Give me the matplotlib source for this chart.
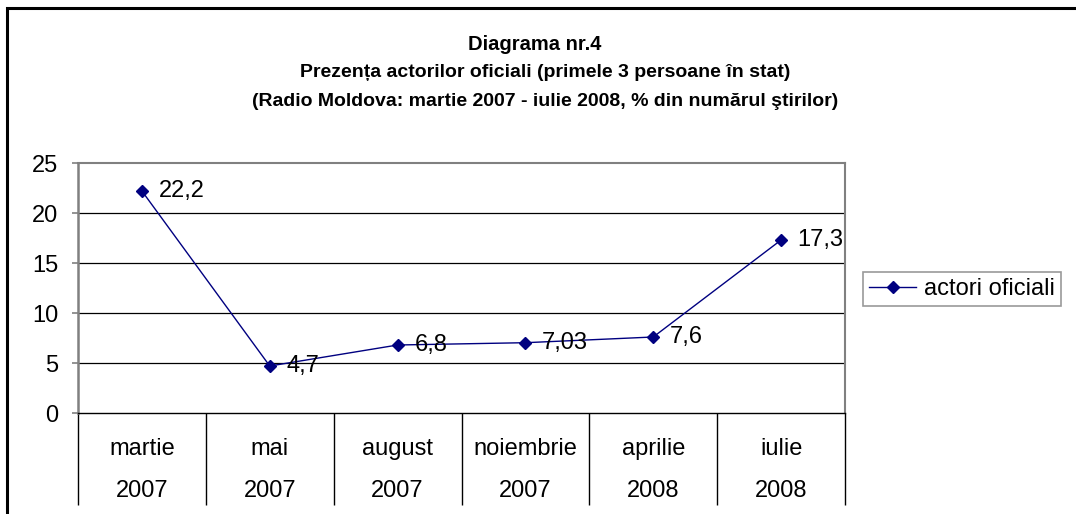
import matplotlib
matplotlib.use("Agg")
import matplotlib.pyplot as plt
from matplotlib.patches import Rectangle

plt.rcParams["font.family"] = ["Liberation Sans", "DejaVu Sans"]

W, H = 1076, 514

# data
months = ["martie", "mai", "august", "noiembrie", "aprilie", "iulie"]
years = ["2007", "2007", "2007", "2007", "2008", "2008"]
values = [22.2, 4.7, 6.8, 7.03, 7.6, 17.3]
value_labels = ["22,2", "4,7", "6,8", "7,03", "7,6", "17,3"]
series_name = "actori oficiali"
yticks = [0, 5, 10, 15, 20, 25]

title_lines = [
    "Diagrama nr.4",
    "Prezența actorilor oficiali (primele 3 persoane în stat)",
    "(Radio Moldova: martie 2007 - iulie 2008, % din numărul ştirilor)",
]

NAVY = "#000080"
GRAY = "#808080"
FS = 17

def px(x, y):
    # pixel coords (top-left origin) -> figure fraction
    return x / W, 1 - y / H

fig = plt.figure(figsize=(W / 100, H / 100), dpi=100)
l, b = px(78, 413)
r, t = px(845, 163)
ax = fig.add_axes([l, b, r - l, t - b])

x = list(range(len(values)))
ax.plot(x, values, color=NAVY, lw=1.0, marker="D", ms=6.5, mfc=NAVY, mec=NAVY,
        label=series_name, zorder=3)
for xi, v, lab in zip(x, values, value_labels):
    ax.annotate(lab, (xi, v), xytext=(12, 0), textcoords="offset points",
                ha="left", va="center", fontsize=FS)

ax.set_xlim(-0.5, len(values) - 0.5)
ax.set_ylim(0, 25)
ax.set_yticks(yticks)
ax.tick_params(axis="y", labelsize=FS, length=4.3, width=1.2, color=GRAY, pad=10)
for g in yticks[1:-1]:
    ax.axhline(g, color="black", lw=0.9, zorder=1)

# category axis: labels in cells separated by long minor ticks
ax.set_xticks(x)
ax.set_xticklabels([f"{m}\n{y}" for m, y in zip(months, years)], fontsize=FS,
                   linespacing=2.2)
ax.tick_params(axis="x", which="major", length=0, pad=18)
ax.set_xticks([i - 0.5 for i in range(len(values) + 1)], minor=True)
ax.tick_params(axis="x", which="minor", length=66, width=1.0, color="black")

for s in ["top", "right"]:
    ax.spines[s].set_color(GRAY)
    ax.spines[s].set_linewidth(1.5)
ax.spines["left"].set_color(GRAY)
ax.spines["left"].set_linewidth(1.8)
ax.spines["bottom"].set_color("black")
ax.spines["bottom"].set_linewidth(1.0)

# titles
for txt, xx, yy, fs in zip(title_lines, [535, 545, 545], [45, 73, 101], [14.5, 14, 14]):
    fig.text(xx / W, px(0, yy)[1], txt, ha="center", va="center",
             fontsize=fs, fontweight="bold")

leg = fig.legend(loc="center left", bbox_to_anchor=px(863, 289), fontsize=FS,
                 frameon=True, fancybox=False, edgecolor=GRAY, borderpad=0.25,
                 handlelength=2.0, handletextpad=0.35, borderaxespad=0)
leg.get_frame().set_linewidth(1.2)

# outer chart frame (right and bottom edges fall outside the picture)
fx, fy = px(7, 8)
fig.add_artist(Rectangle((fx, -0.5), 1.2, fy + 0.5, transform=fig.transFigure,
                         fill=False, edgecolor="black", lw=2.2))

fig.savefig("out.png", dpi=100, facecolor="white")
